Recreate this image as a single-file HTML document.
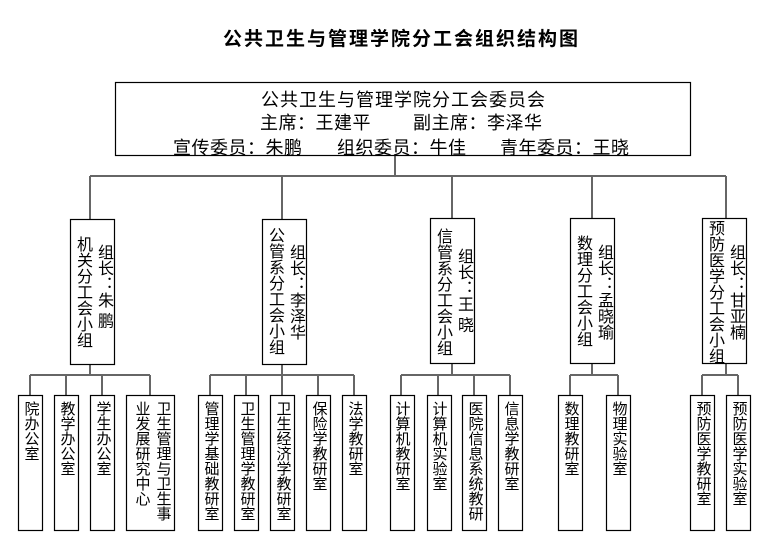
<!DOCTYPE html>
<html><head><meta charset="utf-8"><style>
body{margin:0;background:#fff;width:769px;height:544px;overflow:hidden;position:relative;font-family:"Liberation Sans","Noto Sans CJK SC","WenQuanYi Zen Hei",sans-serif;color:#000}
svg{position:absolute;left:0;top:0}
.t{position:absolute;white-space:nowrap}
.v{position:absolute;writing-mode:vertical-rl;white-space:nowrap;line-height:1;transform:translateX(-50%)}
.g{font-size:16px}
.c{font-size:15px}
</style></head><body>
<svg width="769" height="544" viewBox="0 0 769 544">
<g fill="none" stroke="#666" stroke-width="2">
<path d="M395 156V176M90 176H726M90 176V219M282 176V219M452 176V218M592 176V218M726 176V218"/>
<path d="M90 364V375M30 375H150M30 375V395M66 375V395M102 375V395M150 375V395"/>
<path d="M282 364V375M210 375H354M210 375V395M246 375V395M282 375V395M318 375V395M354 375V395"/>
<path d="M452 363V375M401 375H510M401 375V395M438 375V395M474 375V395M510 375V395"/>
<path d="M592 363V375M570 375H618M570 375V395M618 375V395"/>
<path d="M726 363V375M702 375H738M702 375V395M738 375V395"/>
</g>
<g fill="#fff" stroke="#000" stroke-width="1.2">
<rect x="115.5" y="82.5" width="575" height="73"/>
<rect x="70.5" y="219.5" width="44" height="145"/>
<rect x="262.5" y="219.5" width="44" height="145"/>
<rect x="430.5" y="218.5" width="44" height="145"/>
<rect x="570.5" y="218.5" width="44" height="145"/>
<rect x="702.5" y="218.5" width="44" height="145"/>
<rect x="18.5" y="395.5" width="24" height="135"/>
<rect x="54.5" y="395.5" width="24" height="135"/>
<rect x="90.5" y="395.5" width="24" height="135"/>
<rect x="126.5" y="395.5" width="48" height="135"/>
<rect x="198.5" y="395.5" width="24" height="135"/>
<rect x="234.5" y="395.5" width="24" height="135"/>
<rect x="270.5" y="395.5" width="24" height="135"/>
<rect x="306.5" y="395.5" width="24" height="135"/>
<rect x="342.5" y="395.5" width="24" height="135"/>
<rect x="390.5" y="395.5" width="24" height="135"/>
<rect x="427.5" y="395.5" width="24" height="135"/>
<rect x="462.5" y="395.5" width="24" height="135"/>
<rect x="498.5" y="395.5" width="24" height="135"/>
<rect x="558.5" y="395.5" width="24" height="135"/>
<rect x="606.5" y="395.5" width="24" height="135"/>
<rect x="690.5" y="395.5" width="24" height="135"/>
<rect x="726.5" y="395.5" width="24" height="135"/>
</g>
</svg>
<div class="t" style="left:223px;top:24px;font-size:19px;font-weight:bold;letter-spacing:2px">公共卫生与管理学院分工会组织结构图</div>
<div class="t" style="left:261px;top:86px;font-size:18px;letter-spacing:1px">公共卫生与管理学院分工会委员会</div>
<div class="t" style="left:260px;top:109px;font-size:18px;letter-spacing:0.5px">主席：王建平</div>
<div class="t" style="left:413px;top:109px;font-size:18px;letter-spacing:0.5px">副主席：李泽华</div>
<div class="t" style="left:173px;top:134px;font-size:18px;letter-spacing:0.5px">宣传委员：朱鹏</div>
<div class="t" style="left:337px;top:134px;font-size:18px;letter-spacing:0.5px">组织委员：牛佳</div>
<div class="t" style="left:500px;top:134px;font-size:18px;letter-spacing:0.5px">青年委员：王晓</div>

<div class="v g" style="left:82px;top:236px">机关分工会小组</div>
<div class="v g" style="left:103px;top:244px">组长：朱 鹏</div>
<div class="v g" style="left:274px;top:227px">公管系分工会小组</div>
<div class="v g" style="left:295px;top:244px">组长：李泽华</div>
<div class="v g" style="left:442px;top:228px">信管系分工会小组</div>
<div class="v g" style="left:463px;top:248px">组长：王 晓</div>
<div class="v g" style="left:582px;top:235px">数理分工会小组</div>
<div class="v g" style="left:603px;top:244px">组长：孟晓瑜</div>
<div class="v g" style="left:714px;top:220px">预防医学分工会小组</div>
<div class="v g" style="left:735px;top:244px">组长：甘亚楠</div>

<div class="v c" style="left:31px;top:401px">院办公室</div>
<div class="v c" style="left:67px;top:401px">教学办公室</div>
<div class="v c" style="left:103px;top:401px">学生办公室</div>
<div class="v c" style="left:163px;top:401px">卫生管理与卫生事</div>
<div class="v c" style="left:142px;top:401px">业发展研究中心</div>
<div class="v c" style="left:211px;top:401px">管理学基础教研室</div>
<div class="v c" style="left:247px;top:401px">卫生管理学教研室</div>
<div class="v c" style="left:283px;top:401px">卫生经济学教研室</div>
<div class="v c" style="left:319px;top:401px">保险学教研室</div>
<div class="v c" style="left:355px;top:401px">法学教研室</div>
<div class="v c" style="left:402px;top:401px">计算机教研室</div>
<div class="v c" style="left:439px;top:401px">计算机实验室</div>
<div class="v c" style="left:475px;top:401px">医院信息系统教研</div>
<div class="v c" style="left:511px;top:401px">信息学教研室</div>
<div class="v c" style="left:571px;top:401px">数理教研室</div>
<div class="v c" style="left:619px;top:401px">物理实验室</div>
<div class="v c" style="left:703px;top:401px">预防医学教研室</div>
<div class="v c" style="left:739px;top:401px">预防医学实验室</div>
</body></html>
